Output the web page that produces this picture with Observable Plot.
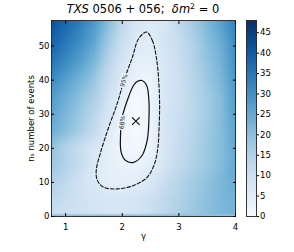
<!DOCTYPE html>
<html><head><meta charset="utf-8">
<script src="https://cdn.jsdelivr.net/npm/d3@7"></script>
<script src="https://cdn.jsdelivr.net/npm/@observablehq/plot@0.6"></script>
<style>
body{margin:0;background:#fff;}
#wrap{position:relative;width:294px;height:252px;font-family:"DejaVu Sans",sans-serif;}
#wrap svg{position:absolute;top:0;}
#title{position:absolute;left:51px;width:184px;top:3px;text-align:center;font-size:11.5px;line-height:13px;white-space:nowrap;color:#000;}
#title sup{font-size:0.68em;vertical-align:0;position:relative;top:-0.45em;}
</style></head>
<body><div id="wrap"><div id="title"><i>TXS</i> 0506 + 056;&nbsp; <i>δm</i><sup>2</sup> = 0</div></div>
<script>
// grid of test-statistic values
const gammaGrid = [0.75, 1.0, 1.25, 1.5, 1.75, 2.0, 2.25, 2.5, 2.75, 3.0, 3.25, 3.5, 3.75, 4.0];
const nsGrid = [0, 0.6, 0.8, 5, 10, 15, 20, 25, 30, 35, 40, 45, 50, 57.5];
const tsGrid = [
  [19.5, 19.5, 19.5, 19.5, 19.5, 19.5, 19.5, 19.5, 19.5, 19.5, 19.5, 19.5, 19.5, 19.5],
  [19.5, 19.5, 19.5, 19.5, 19.5, 19.5, 19.5, 19.5, 19.5, 19.5, 19.5, 19.5, 19.5, 19.5],
  [11, 10, 9, 8.5, 8, 7.8, 8.5, 10.5, 13, 15.5, 18, 20, 22, 23],
  [13, 11, 9.5, 8.5, 8, 7.8, 8.3, 10, 12.5, 15, 17.5, 20, 22, 23],
  [15, 12.5, 9.5, 7.0, 4.6, 4.4, 5.0, 7.2, 11, 14, 17, 19.5, 22, 24],
  [18, 15, 11.5, 6.8, 4.5, 3.2, 3.0, 4.5, 8.5, 12, 15, 18, 21, 25],
  [19, 15, 11, 7.5, 4.3, 2.1, 1.5, 2.9, 7.8, 11.5, 14.5, 18, 21, 25],
  [24, 20.5, 16.5, 12, 6.0, 2.1, 0.5, 2.6, 8, 11, 14, 17.5, 21, 26],
  [26, 22, 18, 13.5, 8, 2.5, 0.2, 2.5, 8, 10.5, 13.5, 17, 21, 27],
  [28, 24, 20, 16, 9.5, 4.6, 1.0, 2.6, 7.5, 10, 13.5, 17, 21, 28],
  [31, 27, 23, 18.5, 11.5, 6.5, 2.7, 2.6, 7.2, 10, 14, 18, 22, 29],
  [35, 31, 27, 22, 14, 8, 4.5, 4.2, 7.5, 10.5, 14.5, 19, 23, 30],
  [38, 34, 30, 25, 17, 10, 6, 5.2, 8.5, 11, 15, 20, 24, 31],
  [42, 38, 34, 29, 21, 13, 8, 6.5, 8, 13, 17, 22, 27, 33]
];
// contours
const c95Gamma = [2.43, 2.53, 2.61, 2.65, 2.66, 2.65, 2.63, 2.57, 2.44, 2.20, 1.91, 1.67, 1.56, 1.54, 1.61, 1.76, 1.91, 2.03, 2.18, 2.29];
const c95Ns    = [54.1, 51.7, 45.8, 38.0, 32.1, 26.2, 20.3, 15.5, 11.5, 9.1, 8.1, 8.6, 10.6, 13.5, 18.4, 26.2, 33.1, 39.9, 46.8, 52.2];
const c68Gamma = [2.35, 2.43, 2.47, 2.47, 2.44, 2.35, 2.20, 2.06, 1.98, 1.97, 2.00, 2.09, 2.20, 2.27];
const c68Ns    = [39.9, 38.5, 34.1, 28.2, 22.3, 17.9, 15.9, 16.4, 18.9, 24.3, 29.2, 34.1, 38.5, 39.7];
const bestGamma = [2.24];
const bestNs = [28.0];
const labelText = ["95%", "68%"];
const labelGamma = [2.03, 2.0];
const labelNs = [39.9, 27.6];
const labelAngle = [-72, -84];
const xTicks = [1, 2, 3, 4];
const yTicks = [0, 10, 20, 30, 40, 50];
const cbTicks = [0, 5, 10, 15, 20, 25, 30, 35, 40, 45];

const points = [];
nsGrid.forEach((n, i) => gammaGrid.forEach((g, j) => points.push({g, ns: n, ts: tsGrid[i][j]})));
const c95 = c95Gamma.map((g, i) => ({g, ns: c95Ns[i]}));
const c68 = c68Gamma.map((g, i) => ({g, ns: c68Ns[i]}));
const best = bestGamma.map((g, i) => ({g, ns: bestNs[i]}));
const labels = labelText.map((t, i) => ({t, g: labelGamma[i], ns: labelNs[i], a: labelAngle[i]}));

const style = {fontFamily: "DejaVu Sans", fontSize: "8.5px", background: "transparent", color: "#000"};
const colorOpt = {type: "linear", scheme: "blues", domain: [0, 48]};
const fmt = d => String(d);

const main = Plot.plot({
  width: 294, height: 252,
  marginLeft: 51, marginRight: 59, marginTop: 20, marginBottom: 36,
  style,
  x: {domain: [0.75, 4]},
  y: {domain: [0, 57.5]},
  color: colorOpt,
  marks: [
    Plot.raster(points, {x: "g", y: "ns", fill: "ts", interpolate: "barycentric"}),
    Plot.line(c95, {x: "g", y: "ns", curve: "catmull-rom-closed", stroke: "#111", strokeWidth: 1.1, strokeDasharray: "3.5,2"}),
    Plot.line(c68, {x: "g", y: "ns", curve: "catmull-rom-closed", stroke: "#111", strokeWidth: 1.2}),
    Plot.text(labels, {x: "g", y: "ns", text: "t", rotate: "a", fontSize: 6, fill: "#222", stroke: "#eaf3fb", strokeWidth: 3}),
    Plot.dot(best, {x: "g", y: "ns", symbol: "times", r: 3.5, stroke: "#111", strokeWidth: 1.2}),
    Plot.frame({stroke: "#222", strokeWidth: 0.9}),
    Plot.axisX({ticks: xTicks, tickFormat: fmt, tickSize: -3, tickPadding: 10, label: "γ", labelArrow: "none", labelAnchor: "center", labelOffset: 22}),
    Plot.axisX({anchor: "top", ticks: xTicks, tickSize: -3, tickFormat: () => "", label: null}),
    Plot.axisY({ticks: yTicks, tickFormat: fmt, tickSize: -3, tickPadding: 5, label: "nₛ number of events", labelArrow: "none", labelAnchor: "center", labelOffset: 24}),
    Plot.axisY({anchor: "right", ticks: yTicks, tickSize: -3, tickFormat: () => "", label: null})
  ]
});
main.style.left = "0px";

const cb = Plot.plot({
  width: 64, height: 252,
  marginLeft: 16, marginRight: 38, marginTop: 20, marginBottom: 36,
  style,
  x: {domain: [0, 1], axis: null},
  y: {domain: [0, 48], axis: null},
  color: colorOpt,
  marks: [
    Plot.raster({x1: 0, x2: 1, y1: 0, y2: 48, fill: (x, y) => y}),
    Plot.frame({stroke: "#222", strokeWidth: 0.9}),
    Plot.axisY({anchor: "right", ticks: cbTicks, tickFormat: fmt, tickSize: 2, tickPadding: 1.5, label: null})
  ]
});
cb.style.left = "230px";

const wrap = document.getElementById("wrap");
wrap.appendChild(main);
wrap.appendChild(cb);
</script>
</body></html>
